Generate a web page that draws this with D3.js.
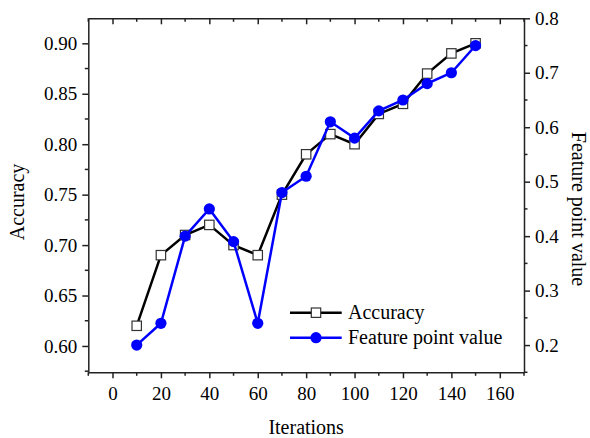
<!DOCTYPE html>
<html>
<head>
<meta charset="utf-8">
<script src="https://cdn.jsdelivr.net/npm/d3@7"></script>
<style>
  html, body { margin: 0; padding: 0; background: #fff; }
  svg { display: block; }
  svg text { font-family: "Liberation Serif", "Times New Roman", serif !important; fill: #000; }
</style>
</head>
<body>
<svg id="chart" width="590" height="438"></svg>
<script>
const iterations = [10, 20, 30, 40, 50, 60, 70, 80, 90, 100, 110, 120, 130, 140, 150];
const accuracy = [0.62, 0.69, 0.71, 0.72, 0.70, 0.69, 0.75, 0.79, 0.81, 0.80, 0.83, 0.84, 0.87, 0.89, 0.90];
const featurePoint = [0.20, 0.24, 0.40, 0.45, 0.39, 0.24, 0.48, 0.51, 0.61, 0.58, 0.63, 0.65, 0.68, 0.70, 0.75];
const xTicks = [0, 20, 40, 60, 80, 100, 120, 140, 160];
const leftTicks = [0.60, 0.65, 0.70, 0.75, 0.80, 0.85, 0.90];
const rightTicks = [0.2, 0.3, 0.4, 0.5, 0.6, 0.7, 0.8];
const seriesNames = ["Accuracy", "Feature point value"];
const axisTitles = { x: "Iterations", left: "Accuracy", right: "Feature point value" };

const svg = d3.select("#chart");
const L = 88.3, R = 524, T = 18.3, B = 372.3;
const x = d3.scaleLinear().domain([-10, 170]).range([L, R]);
const yL = d3.scaleLinear().domain([0.5739, 0.9248]).range([B, T]);
const yR = d3.scaleLinear().domain([0.15, 0.80]).range([B, T]);

const axisColor = "#222";
const tickFont = 19;
const serif = "Liberation Serif, Times New Roman, serif";

function styleAxis(g) {
  g.attr("font-family", serif).attr("font-size", tickFont);
  g.selectAll("path.domain").attr("stroke", axisColor).attr("stroke-width", 1.5);
  g.selectAll(".tick line").attr("stroke", axisColor).attr("stroke-width", 1.5);
  g.selectAll(".tick text").attr("font-family", serif).attr("font-size", tickFont).attr("fill", "#000");
}

const xMinor = d3.range(-10, 171, 10).filter(v => v % 20 !== 0);
const gB = svg.append("g").attr("transform", `translate(0,${B})`)
  .call(d3.axisBottom(x).tickValues(xTicks).tickSize(6).tickPadding(8).tickFormat(d3.format("d")).tickSizeOuter(0));
styleAxis(gB);
gB.selectAll(".minor").data(xMinor).enter().append("line")
  .attr("x1", d => x(d)).attr("x2", d => x(d)).attr("y1", 0).attr("y2", 3.5)
  .attr("stroke", axisColor).attr("stroke-width", 1.5);
const gT = svg.append("g").attr("transform", `translate(0,${T})`)
  .call(d3.axisTop(x).tickValues(xTicks).tickSize(-6).tickFormat("").tickSizeOuter(0));
styleAxis(gT);
gT.selectAll(".minor").data(xMinor).enter().append("line")
  .attr("x1", d => x(d)).attr("x2", d => x(d)).attr("y1", 0).attr("y2", 3.5)
  .attr("stroke", axisColor).attr("stroke-width", 1.5);

const leftMinor = d3.range(0.575, 0.93, 0.05).map(v => +v.toFixed(3)).filter(v => v >= 0.5739 && v <= 0.9248);
const gL = svg.append("g").attr("transform", `translate(${L},0)`)
  .call(d3.axisLeft(yL).tickValues(leftTicks).tickSize(6).tickPadding(5).tickFormat(d3.format(".2f")).tickSizeOuter(0));
styleAxis(gL);
gL.selectAll(".minor").data(leftMinor).enter().append("line")
  .attr("y1", d => yL(d)).attr("y2", d => yL(d)).attr("x1", 0).attr("x2", -3.5)
  .attr("stroke", axisColor).attr("stroke-width", 1.5);

const rightMinor = d3.range(0.15, 0.80, 0.1).map(v => +v.toFixed(3));
const gR = svg.append("g").attr("transform", `translate(${R},0)`)
  .call(d3.axisRight(yR).tickValues(rightTicks).tickSize(6).tickPadding(5).tickFormat(d3.format(".1f")).tickSizeOuter(0));
styleAxis(gR);
gR.selectAll(".minor").data(rightMinor).enter().append("line")
  .attr("y1", d => yR(d)).attr("y2", d => yR(d)).attr("x1", 0).attr("x2", 3.5)
  .attr("stroke", axisColor).attr("stroke-width", 1.5);

svg.append("text").attr("x", (L + R) / 2).attr("y", 434).attr("text-anchor", "middle")
  .attr("font-family", serif).attr("font-size", 20).text(axisTitles.x);
svg.append("text").attr("transform", `translate(24,202) rotate(-90)`).attr("text-anchor", "middle")
  .attr("font-family", serif).attr("font-size", 20).text(axisTitles.left);
svg.append("text").attr("transform", `translate(572,209) rotate(90)`).attr("text-anchor", "middle")
  .attr("font-family", serif).attr("font-size", 20).text(axisTitles.right);

const accData = iterations.map((it, i) => ({ x: it, y: accuracy[i] }));
const fpData = iterations.map((it, i) => ({ x: it, y: featurePoint[i] }));

const lineAcc = d3.line().x(d => x(d.x)).y(d => yL(d.y));
const lineFp = d3.line().x(d => x(d.x)).y(d => yR(d.y));

svg.append("path").datum(accData).attr("d", lineAcc)
  .attr("fill", "none").attr("stroke", "#000").attr("stroke-width", 2.5);
svg.append("g").selectAll("rect").data(accData).enter().append("rect")
  .attr("x", d => x(d.x) - 4.7).attr("y", d => yL(d.y) - 4.7)
  .attr("width", 9.4).attr("height", 9.4)
  .attr("fill", "#fff").attr("stroke", "#333").attr("stroke-width", 1.2);

svg.append("path").datum(fpData).attr("d", lineFp)
  .attr("fill", "none").attr("stroke", "#0000ff").attr("stroke-width", 2.5);
svg.append("g").selectAll("circle").data(fpData).enter().append("circle")
  .attr("cx", d => x(d.x)).attr("cy", d => yR(d.y)).attr("r", 5.6)
  .attr("fill", "#0000ff");

const lg = svg.append("g");
const legendY = [312.7, 337.7];
lg.append("line").attr("x1", 290).attr("x2", 341.7).attr("y1", legendY[0]).attr("y2", legendY[0])
  .attr("stroke", "#000").attr("stroke-width", 2.5);
lg.append("rect").attr("x", 316 - 4.7).attr("y", legendY[0] - 4.7).attr("width", 9.4).attr("height", 9.4)
  .attr("fill", "#fff").attr("stroke", "#333").attr("stroke-width", 1.2);
lg.append("line").attr("x1", 290).attr("x2", 341.7).attr("y1", legendY[1]).attr("y2", legendY[1])
  .attr("stroke", "#0000ff").attr("stroke-width", 2.5);
lg.append("circle").attr("cx", 316).attr("cy", legendY[1]).attr("r", 5.6).attr("fill", "#0000ff");
seriesNames.forEach((n, i) => {
  lg.append("text").attr("x", 348).attr("y", legendY[i]).attr("dy", "0.33em")
    .attr("font-family", serif).attr("font-size", 20).text(n);
});
</script>
</body>
</html>
